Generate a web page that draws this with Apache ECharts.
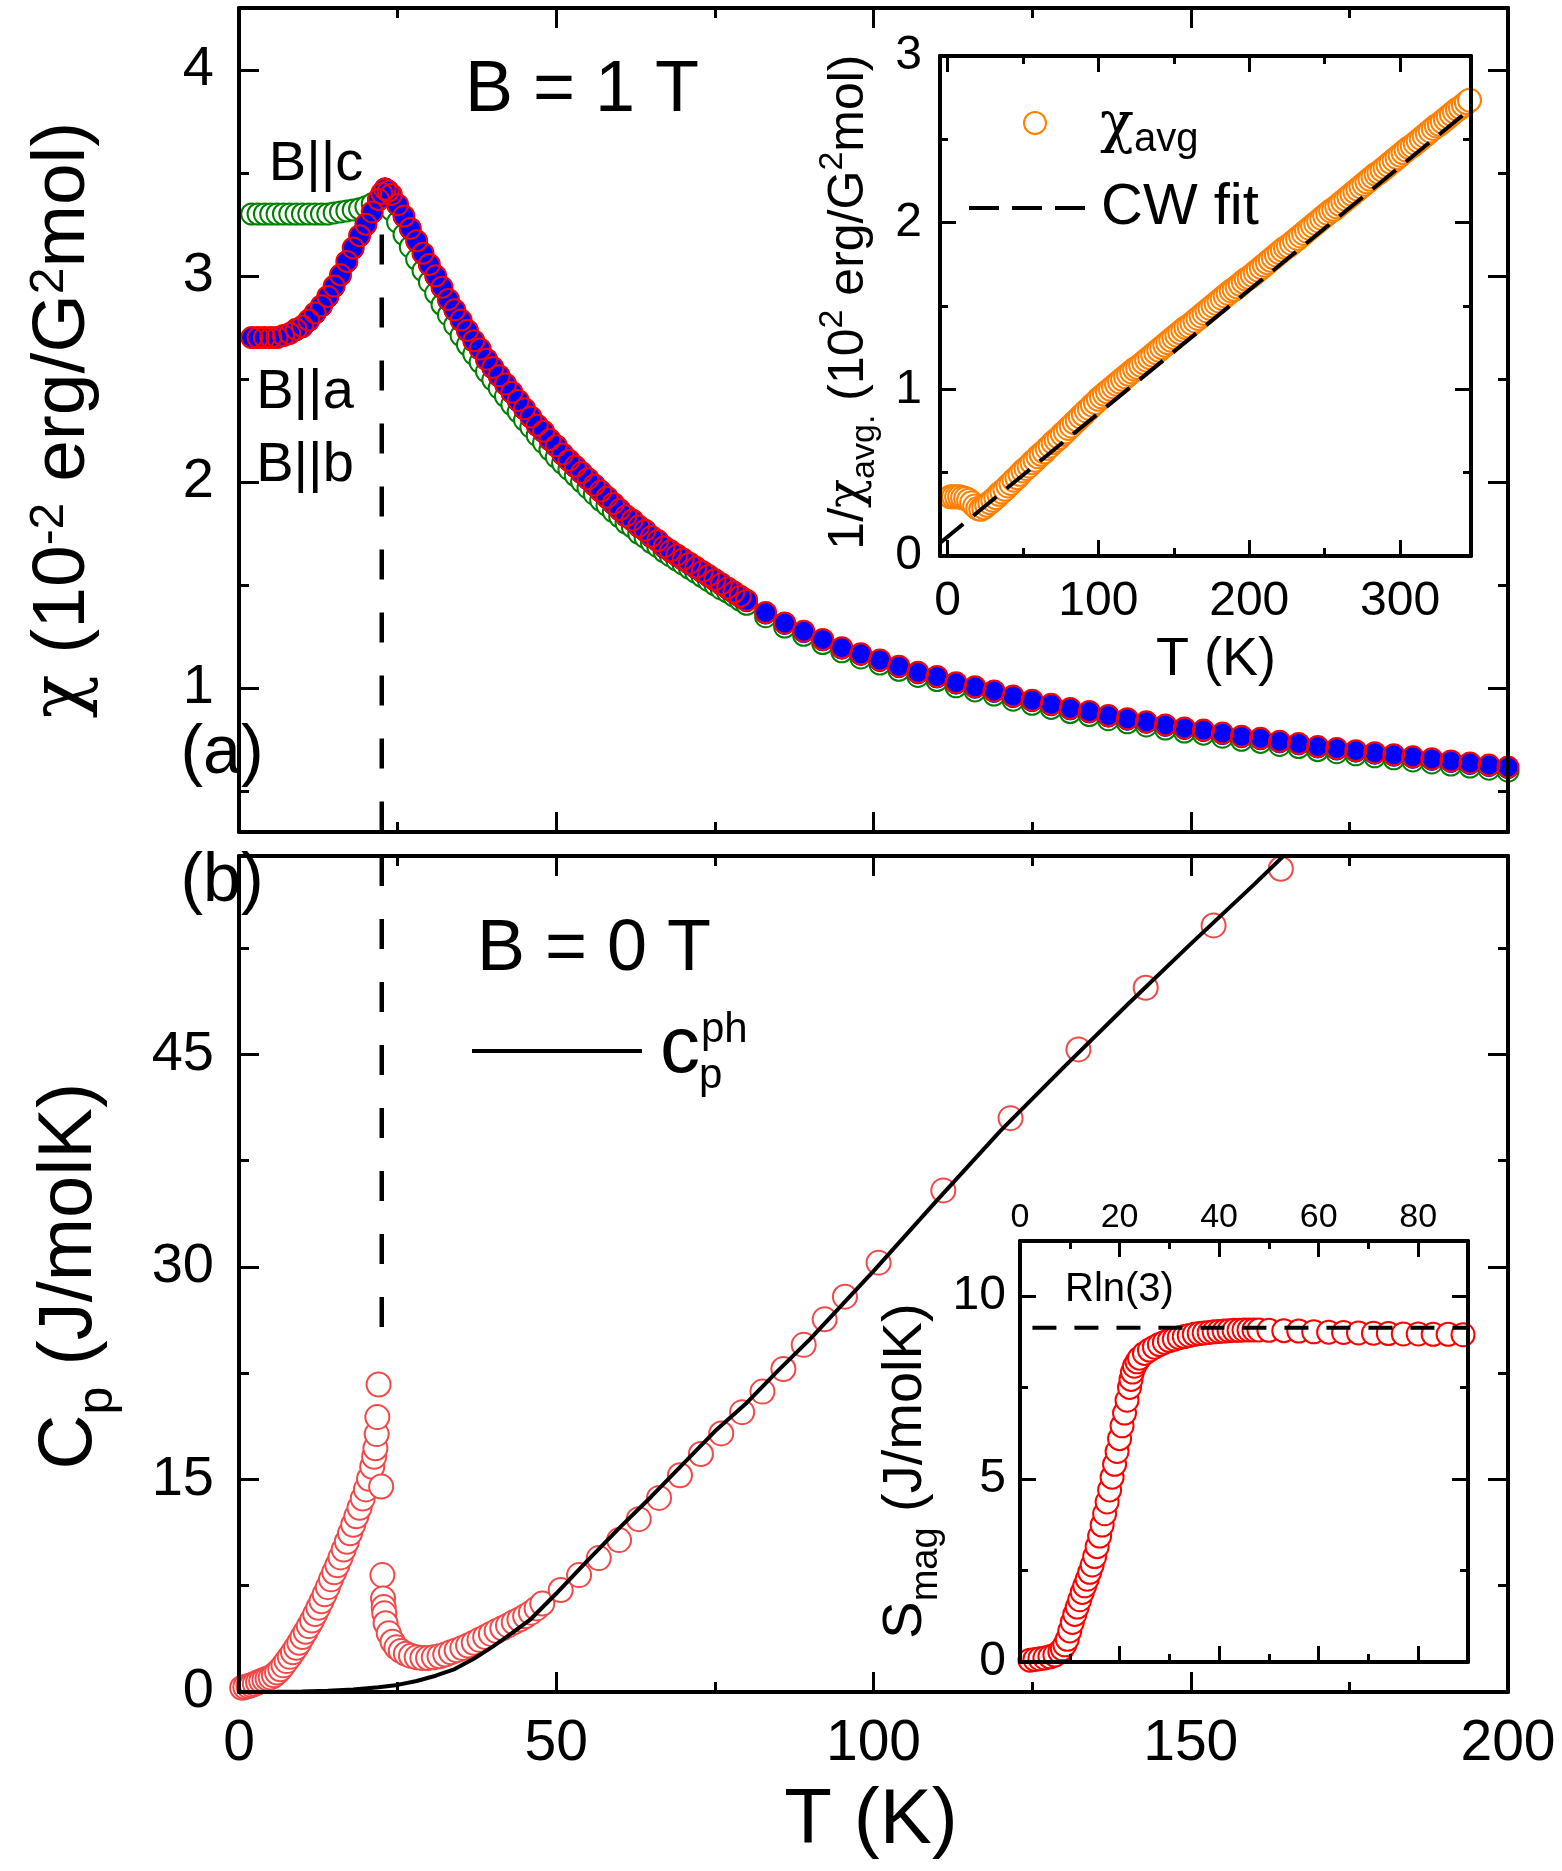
<!DOCTYPE html>
<html><head><meta charset="utf-8">
<script src="https://cdn.jsdelivr.net/npm/echarts@6/dist/echarts.min.js"></script>
<style>html,body{margin:0;padding:0;background:#fff}#c{width:1562px;height:1871px}</style>
</head><body><div id="c"></div>
<script>
// ---------------- DATA ----------------
// (a) susceptibility, B = 1 T, chi in 1e-2 erg/G^2 mol
const T_chi = [2,3,4,5,6,7,8,9,10,11,12,13,14,15,16,17,18,19,20,21,22,22.5,23,23.5,
24,25,26,27,28,29,30,31,32,33,34,35,36,37,38,39,40,41,42,43,44,45,46,47,48,49,50,51,52,53,54,55,56,57,58,59,60,61,62,63,64,65,66,67,68,69,70,71,72,73,74,75,76,77,78,79,80,
83,86,89,92,95,98,101,104,107,110,113,116,119,122,125,128,131,134,137,140,143,146,149,152,155,158,161,164,167,170,173,176,179,182,185,188,191,194,197,200];
const chi_a = [2.70,2.70,2.70,2.70,2.70,2.71,2.72,2.74,2.755,2.785,2.82,2.855,2.90,2.95,3.005,3.07,3.135,3.195,3.25,3.31,3.37,
3.40,3.42,3.41,
3.395,3.345,3.29,3.23,3.17,3.11,3.055,3.0,
2.945,2.885,2.835,2.785,2.735,2.685,2.645,2.595,2.555,2.515,2.475,2.435,2.395,2.355,2.315,2.275,2.245,2.205,2.175,2.135,2.105,2.075,2.045,2.015,1.985,1.955,1.925,1.895,1.865,1.835,1.815,1.785,1.765,1.735,1.715,1.685,1.665,1.645,1.625,1.605,1.585,1.565,1.545,1.525,1.505,1.485,1.465,1.445,1.425,
1.365,1.315,1.275,1.235,1.195,1.165,1.135,1.105,1.075,1.055,1.025,1.005,0.985,0.96,0.94,0.92,0.90,0.885,0.865,0.85,0.835,0.82,0.805,0.795,0.78,0.765,0.755,0.74,0.73,0.715,0.705,0.695,0.685,0.675,0.665,0.655,0.645,0.635,0.625,0.615];
const chi_b = [2.70,2.70,2.70,2.70,2.70,2.71,2.72,2.735,2.75,2.78,2.815,2.85,2.895,2.945,3.00,3.065,3.13,3.19,3.245,3.305,3.365,
3.40,3.425,3.415,
3.39,3.34,3.285,3.225,3.165,3.105,3.05,2.995,
2.94,2.88,2.83,2.78,2.73,2.68,2.64,2.59,2.55,2.51,2.47,2.43,2.39,2.35,2.31,2.27,2.24,2.20,2.17,2.13,2.10,2.07,2.04,2.01,1.98,1.95,1.92,1.89,1.86,1.83,1.81,1.78,1.76,1.73,1.71,1.68,1.66,1.64,1.62,1.60,1.58,1.56,1.54,1.52,1.50,1.48,1.46,1.44,1.42,
1.36,1.31,1.27,1.23,1.19,1.16,1.13,1.10,1.07,1.05,1.02,1.00,0.98,0.955,0.935,0.915,0.895,0.88,0.86,0.845,0.83,0.815,0.80,0.79,0.775,0.76,0.75,0.735,0.725,0.71,0.70,0.69,0.68,0.67,0.66,0.65,0.64,0.63,0.62,0.61];
const chi_c = [3.30,3.30,3.30,3.30,3.30,3.30,3.30,3.30,3.30,3.30,3.30,3.30,3.30,3.305,3.31,3.315,3.32,3.325,3.335,3.35,3.37,
3.385,3.38,3.36,
3.32,3.26,3.20,3.14,3.08,3.025,2.97,2.915,
2.86,2.81,2.76,2.71,2.665,2.62,2.58,2.535,2.495,2.455,2.415,2.375,2.34,2.30,2.265,2.225,2.19,2.155,2.12,2.09,2.06,2.03,2.0,1.97,1.94,1.91,1.885,1.855,1.83,1.80,1.78,1.75,1.73,1.705,1.685,1.66,1.64,1.62,1.60,1.58,1.56,1.54,1.52,1.50,1.48,1.465,1.445,1.425,1.405,
1.345,1.295,1.255,1.215,1.175,1.145,1.115,1.085,1.055,1.035,1.005,0.985,0.965,0.94,0.92,0.90,0.88,0.865,0.845,0.83,0.815,0.80,0.785,0.775,0.76,0.745,0.735,0.72,0.71,0.695,0.685,0.675,0.665,0.655,0.645,0.635,0.625,0.615,0.605,0.595];
const T_N = 22.5;

// (a) inset: 1/chi_avg in 1e2 G^2 mol/erg
const T_inv = [2,4,6,8,10,12,14,16,18,20,22,24,26,28,30,32,34,36,38,40,42,44,46,48,50,52,54,56,58,60,62,64,66,68,70,72,74,76,78,80,82,84,86,88,90,92,94,96,98,100,
102,104,106,108,110,112,114,116,118,120,122,124,126,128,130,132,134,136,138,140,142,144,146,148,150,152,154,156,158,160,162,164,166,168,170,172,174,176,178,180,182,184,186,188,190,192,194,196,198,200,
202,204,206,208,210,212,214,216,218,220,222,224,226,228,230,232,234,236,238,240,242,244,246,248,250,252,254,256,258,260,262,264,266,268,270,272,274,276,278,280,282,284,286,288,290,292,294,296,298,300,
302,304,306,308,310,312,314,316,318,320,322,324,326,328,330,332,334,336,338,340,342,344,346];
const invChiAvg = [0.355,0.355,0.355,0.355,0.35,0.345,0.335,0.32,0.30,0.285,0.28,0.29,0.305,0.32,0.335,0.35,0.37,0.385,0.40,0.42,0.435,0.455,0.47,0.49,0.51,0.525,0.54,0.56,0.575,0.595,0.61,0.625,0.645,0.66,0.68,0.695,0.71,0.73,0.745,0.765,0.78,0.80,0.815,0.835,0.85,0.87,0.885,0.905,0.92,0.94,
0.955,0.97,0.985,1.0,1.015,1.03,1.045,1.06,1.075,1.09,1.105,1.12,1.13,1.145,1.16,1.175,1.19,1.205,1.22,1.235,1.25,1.265,1.28,1.295,1.31,1.325,1.34,1.355,1.37,1.38,1.395,1.41,1.425,1.44,1.455,1.47,1.485,1.50,1.515,1.53,1.545,1.56,1.575,1.59,1.60,1.615,1.63,1.645,1.66,1.67,
1.685,1.70,1.715,1.73,1.745,1.76,1.775,1.79,1.805,1.82,1.835,1.85,1.86,1.875,1.89,1.905,1.92,1.935,1.95,1.965,1.98,1.995,2.01,2.025,2.04,2.055,2.07,2.08,2.095,2.11,2.125,2.14,2.155,2.17,2.185,2.20,2.215,2.23,2.245,2.26,2.275,2.29,2.30,2.315,2.33,2.345,2.36,2.375,2.39,2.405,
2.42,2.435,2.45,2.46,2.475,2.49,2.505,2.52,2.535,2.55,2.565,2.58,2.59,2.605,2.62,2.635,2.65,2.665,2.68,2.69,2.705,2.72,2.735];
const cwFitT = [-5, 347];
const cwFitV = [0.078, 2.685];

// (b) heat capacity, B = 0 T
const T_cp = [0.5,1,1.5,2,2.5,3,3.5,4,4.5,5,5.5,6,6.5,7,7.5,8,8.5,9,9.5,10,10.5,11,11.5,12,12.5,13,13.5,14,14.5,15,15.5,16,16.5,17,17.5,18,18.5,19,19.5,20,20.5,21,21.3,21.5,21.7,21.8,22.0,22.4,22.6,22.7,22.8,22.9,23.1,23.6,24.2,24.8,25.5,26.3,27.1,28.0,28.9,29.8,30.7,31.6,32.5,33.4,34.3,35.2,36.1,37.0,37.9,38.8,39.7,40.6,41.5,42.4,43.3,44.2,45.1,46.0,46.9,47.8,50.7,53.6,56.7,59.9,63.0,66.2,69.5,72.8,76.0,79.3,82.5,85.8,89.0,92.3,95.5,100.8,111.0,121.6,132.3,142.9,153.6,164.2];
const cp = [0.30,0.35,0.42,0.50,0.58,0.68,0.78,0.86,0.95,1.03,1.18,1.38,1.60,1.88,2.18,2.48,2.80,3.12,3.48,3.88,4.25,4.65,5.05,5.50,5.95,6.40,6.90,7.40,7.95,8.45,8.95,9.50,10.05,10.60,11.20,11.80,12.40,13.00,13.65,14.30,15.05,15.90,16.60,17.20,18.20,19.40,21.70,14.50,8.25,6.60,6.00,5.55,4.85,4.15,3.55,3.15,2.90,2.70,2.55,2.45,2.40,2.40,2.45,2.52,2.65,2.80,2.95,3.10,3.28,3.48,3.68,3.88,4.10,4.30,4.50,4.70,4.92,5.12,5.35,5.60,5.90,6.25,7.20,8.25,9.45,10.72,12.20,13.70,15.30,16.80,18.25,19.75,21.20,22.80,24.50,26.30,27.90,30.30,35.40,40.50,45.35,49.70,54.10,58.10];
const T_ph = [2,6,10,14,18,22,25,28,31,34,37,40,43,46,50,55,60,65,70,75,80,85,90,95,100,110,120,130,140,150,160,166];
const cp_ph = [0,0.01,0.03,0.08,0.18,0.33,0.50,0.78,1.15,1.62,2.35,3.20,4.15,5.15,6.95,9.30,11.60,13.80,16.10,18.40,20.40,22.70,24.90,27.30,29.70,34.70,39.60,44.10,48.50,52.80,57.00,59.60];

// (b) inset: magnetic entropy
const T_s = [2,3,4,5,6,7,8,8.5,9,9.5,10,10.5,11,11.5,12,12.5,13,13.5,14,14.5,15,15.5,16,16.5,17,17.5,18,18.5,19,19.5,20,20.5,21,21.5,22,22.3,22.6,23,23.5,24,25,26,27,28,29,30,31,32,33,34,35,36,37,38,39,40,41,42,43,44,45,46,47,48,50,53,56,59,62,65,68,71,74,77,80,83,86,89];
const s_mag = [0.05,0.07,0.09,0.11,0.14,0.19,0.28,0.36,0.47,0.62,0.85,1.08,1.30,1.50,1.70,1.90,2.08,2.26,2.45,2.65,2.88,3.15,3.44,3.74,4.05,4.37,4.70,5.05,5.40,5.75,6.10,6.45,6.80,7.15,7.50,7.72,7.92,8.08,8.20,8.30,8.43,8.52,8.60,8.67,8.73,8.78,8.82,8.86,8.89,8.92,8.95,8.97,8.99,9.00,9.02,9.03,9.04,9.05,9.06,9.06,9.07,9.07,9.07,9.07,9.06,9.05,9.04,9.02,9.01,9.00,8.99,8.98,8.97,8.96,8.96,8.95,8.95,8.94];
const RLN3 = 9.13;
const T_rln = [2.5, 90];

// ---------------- CHART ----------------
const FONT = '"Liberation Sans", Arial, Helvetica, sans-serif';
const CHI_FONT = '"DejaVu Serif", serif';
const zip = (a, b) => a.map((v, i) => [v, b[i]]);

function ax(grid, pos, min, max, o) {
  const a = {
    type: 'value', gridIndex: grid, position: pos, min: min, max: max,
    axisLine: {show: true, onZero: false, lineStyle: {color: '#000', width: 4}},
    axisTick: {show: true, inside: true, length: o.maj, lineStyle: {color: '#000', width: 3}},
    minorTick: {show: true, splitNumber: 2, length: o.min, lineStyle: {color: '#000', width: 3}},
    splitLine: {show: false}, minorSplitLine: {show: false},
    axisLabel: {show: !!o.lab, fontSize: o.fs || 50, fontFamily: FONT, color: '#000', margin: o.margin || 10,
      showMinLabel: o.showMin !== false, showMaxLabel: o.showMax !== false},
    z: 10
  };
  if (o.interval) a.interval = o.interval;
  if (o.split) a.splitNumber = o.split;
  return a;
}

const xAxis = [
  ax(0, 'bottom', 0, 200, {interval: 50, maj: 20, min: 10}),
  ax(0, 'top', 0, 200, {interval: 50, maj: 20, min: 10}),
  ax(1, 'bottom', 0, 200, {interval: 50, maj: 20, min: 10, lab: true, fs: 57, margin: 24}),
  ax(1, 'top', 0, 200, {interval: 50, maj: 20, min: 10}),
  ax(2, 'bottom', -5, 347, {split: 4, maj: 16, min: 8, lab: true, fs: 48, margin: 22, showMin: false, showMax: false}),
  ax(2, 'top', -5, 347, {split: 4, maj: 16, min: 8}),
  ax(3, 'bottom', 0, 90, {interval: 20, maj: 16, min: 8}),
  ax(3, 'top', 0, 90, {interval: 20, maj: 16, min: 8, lab: true, fs: 34, margin: 6, showMax: false})
];
const yAxis = [
  ax(0, 'left', 0.3, 4.3, {split: 4, maj: 20, min: 10, lab: true, fs: 56, margin: 25, showMin: false, showMax: false}),
  ax(0, 'right', 0.3, 4.3, {split: 4, maj: 20, min: 10}),
  ax(1, 'left', 0, 59, {interval: 15, maj: 20, min: 10, lab: true, fs: 56, margin: 25, showMax: false}),
  ax(1, 'right', 0, 59, {interval: 15, maj: 20, min: 10}),
  ax(2, 'left', 0, 3, {interval: 1, maj: 16, min: 8, lab: true, fs: 48, margin: 18}),
  ax(2, 'right', 0, 3, {interval: 1, maj: 16, min: 8}),
  ax(3, 'left', 0, 11.5, {interval: 5, maj: 16, min: 8, lab: true, fs: 48, margin: 14, showMax: false}),
  ax(3, 'right', 0, 11.5, {interval: 5, maj: 16, min: 8})
];

function scat(name, xi, data, size, fill, stroke, bw, z) {
  return {type: 'scatter', name: name, xAxisIndex: xi, yAxisIndex: xi, data: data, symbol: 'circle', symbolSize: size,
    itemStyle: {color: fill, borderColor: stroke, borderWidth: bw, opacity: 1}, z: z, silent: true, animation: false};
}
function line(name, xi, data, color, width, dash, z) {
  return {type: 'line', name: name, xAxisIndex: xi, yAxisIndex: xi, data: data, symbol: 'none', showSymbol: false,
    lineStyle: {color: color, width: width, type: dash || 'solid'}, z: z, silent: true, animation: false, clip: true};
}

const series = [
  line('TN a', 0, [[T_N, 3.2], [T_N, 0.3]], '#000', 4.5, [30, 33], 1),
  scat('B||c', 0, zip(T_chi, chi_c), 21, '#fff', '#008000', 2, 2),
  scat('B||b', 0, zip(T_chi, chi_b), 21, '#0000FF', '#0000FF', 1, 3),
  scat('B||a', 0, zip(T_chi, chi_a), 21, 'rgba(0,0,0,0)', '#FF0000', 2, 4),
  line('TN b', 2, [[T_N, 59], [T_N, 25]], '#000', 4.5, [30, 33], 1),
  scat('Cp', 2, zip(T_cp, cp), 24, '#fff', '#F24848', 2, 2),
  line('Cp ph', 2, zip(T_ph, cp_ph), '#000', 4, 'solid', 5),
  scat('chi avg', 4, zip(T_inv, invChiAvg), 23, '#fff', '#FF8000', 2, 2),
  line('CW fit', 4, zip(cwFitT, cwFitV), '#000', 4, [30, 13], 5),
  scat('Smag', 6, zip(T_s, s_mag), 23, '#fff', '#FF0000', 2, 2),
  line('Rln3', 6, zip(T_rln, [RLN3, RLN3]), '#000', 4, [24, 18], 5)
];

function txt(x, y, text, fs, extra) {
  const e = {type: 'text', x: x, y: y, z: 100, silent: true,
    style: Object.assign({text: text, fontSize: fs, fontFamily: FONT, fill: '#000', align: 'center', verticalAlign: 'middle',
      textAlign: 'center', textVerticalAlign: 'middle'}, (extra && extra.style) || {})};
  if (extra && extra.rotation) e.rotation = extra.rotation;
  if (extra && extra.scaleX) e.scaleX = extra.scaleX;
  return e;
}
const R = (fs, lh, va, ff) => ({fontSize: fs, fontFamily: ff || FONT, fill: '#000', lineHeight: lh, verticalAlign: va || 'middle'});
const ROT = Math.PI / 2;
const LEFT = {style: {align: 'left', textAlign: 'left'}};

const graphics = [
  // panel (a) y title
  txt(63, 420, '{c|χ}{n| (10}{s|-2}{n| erg/G}{s|2}{n|mol)}', 75, {rotation: ROT, style: {rich: {n: R(75, 75), c: R(72, 75, 'middle', CHI_FONT), s: R(48, 48, 'top')}}}),
  // panel (b) y title
  txt(78, 1276, '{n|C}{b|p}{n| (J/molK)}{h|\u200A}', 76, {rotation: ROT, style: {rich: {n: R(76, 76, 'top'), b: R(50, 50, 'bottom'), h: R(2, 91)}}}),
  // x title
  txt(871, 1821, 'T (K)', 78),
  // inset (a) titles
  txt(849, 302, '{n|1/}{c|χ}{b|avg.}{n| (10}{s|2}{n| erg/G}{s|2}{n|mol)}{h|\u200A}', 50, {rotation: ROT, style: {rich: {n: R(50, 50), c: R(48, 50, 'middle', CHI_FONT), b: R(34, 34, 'bottom'), s: R(34, 34, 'top'), h: R(2, 66)}}}),
  txt(1216, 660, 'T (K)', 54),
  // inset (b) title
  txt(906, 1471, '{n|S}{b|mag}{n| (J/molK)}{h|\u200A}', 56, {rotation: ROT, style: {rich: {n: R(56, 56), b: R(38, 38, 'bottom'), h: R(2, 80)}}}),
  // annotations (a)
  txt(582, 91, 'B = 1 T', 72),
  txt(316, 165, 'B||c', 56),
  txt(305, 393, 'B||a', 56),
  txt(305, 466, 'B||b', 56),
  txt(222, 754, '(a)', 68),
  // annotations (b)
  txt(222, 882, '(b)', 68),
  txt(594, 950, 'B = 0 T', 72),
  {type: 'line', z: 100, silent: true, shape: {x1: 472, y1: 1051, x2: 642, y2: 1051}, style: {stroke: '#000', lineWidth: 4}},
  txt(660, 1050, 'c', 80, LEFT),
  txt(701, 1030, 'ph', 42, LEFT),
  txt(699, 1076, 'p', 42, LEFT),
  // inset (a) legend
  {type: 'circle', z: 100, silent: true, shape: {cx: 1035, cy: 123, r: 11}, style: {fill: '#fff', stroke: '#FF8000', lineWidth: 2}},
  txt(1100, 126, 'χ', 56, {style: {align: 'left', textAlign: 'left', fontFamily: CHI_FONT}}),
  txt(1134, 140, 'avg', 40, LEFT),
  {type: 'line', z: 100, silent: true, shape: {x1: 969, y1: 208, x2: 1098, y2: 208}, style: {stroke: '#000', lineWidth: 4, lineDash: [30, 13]}},
  txt(1101, 208, 'CW fit', 58, LEFT),
  // inset (b) label
  txt(1065, 1290, 'Rln(3)', 40, LEFT)
];

const option = {
  animation: false,
  backgroundColor: '#fff',
  grid: [
    {left: 239, top: 8, width: 1269, height: 824},
    {left: 239, top: 856, width: 1269, height: 836},
    {left: 940, top: 56, width: 531, height: 500},
    {left: 1020, top: 1241, width: 448, height: 421}
  ].map(g => Object.assign(g, {containLabel: false, outerBoundsMode: 'none', show: false})),
  xAxis: xAxis,
  yAxis: yAxis,
  series: series,
  graphic: {elements: graphics}
};

const chart = echarts.init(document.getElementById('c'), null, {renderer: 'canvas'});
chart.setOption(option);
</script>
</body></html>
